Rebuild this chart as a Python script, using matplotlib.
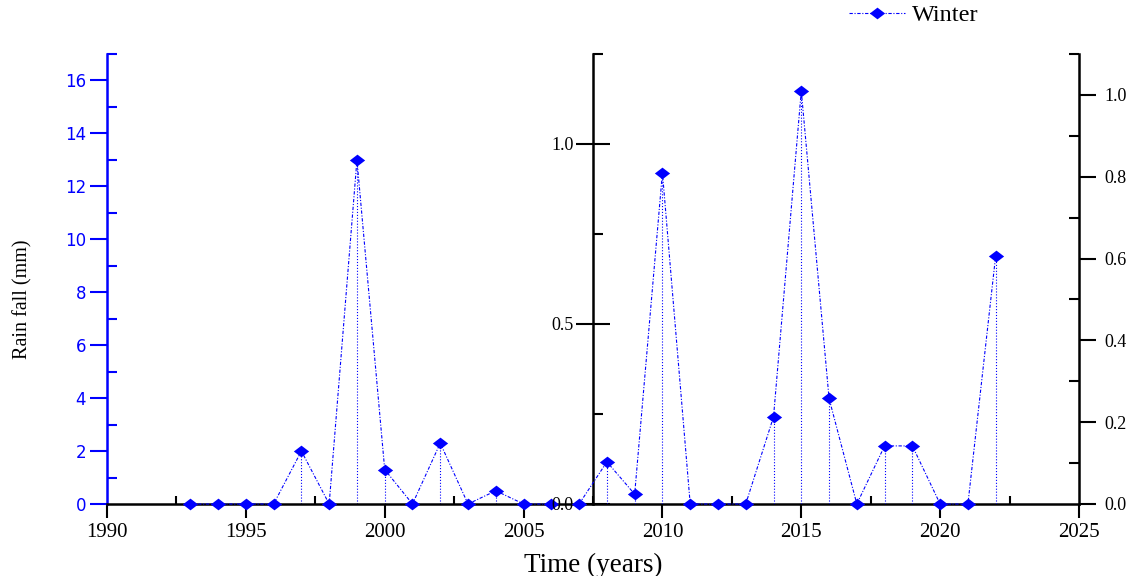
import matplotlib
matplotlib.use("Agg")
import matplotlib.pyplot as plt
from matplotlib.ticker import MultipleLocator, FixedLocator
from matplotlib.lines import Line2D

# winter rainfall, first part read on the left (blue) axis
years_early = [1993, 1994, 1995, 1996, 1997, 1998, 1999, 2000, 2001, 2002, 2003, 2004, 2005, 2006]
rain_early = [0, 0, 0, 0, 2.0, 0, 13.0, 1.3, 0, 2.3, 0, 0.5, 0, 0]

# later part read on the right axis
years_late = [2007, 2008, 2009, 2010, 2011, 2012, 2013, 2014, 2015, 2016, 2017, 2018, 2019, 2020, 2021, 2022]
rain_late = [0, 0.103, 0.024, 0.81, 0, 0, 0, 0.213, 1.01, 0.258, 0, 0.142, 0.142, 0, 0, 0.607]

blue = "#0000ff"
serif = "Liberation Serif"
line_style = (0, (3, 1.5, 1, 1.5))
diamond = [(-1.3, 0), (0, 1), (1.3, 0), (0, -1), (-1.3, 0)]

fig = plt.figure(figsize=(11.31, 5.76), dpi=100)
ax = fig.add_axes([107 / 1131, 1 - 504 / 576, 972 / 1131, 450 / 576])

ax.set_xlim(1990, 2025)
ax.set_ylim(0, 17)

# middle axis (broken-axis style) and right axis
ax_mid = ax.twinx()
ax_mid.set_ylim(0, 1.25)
ax_r = ax.twinx()
ax_r.set_ylim(0, 1.1)

# data
ax.plot(years_early, rain_early, color=blue, lw=0.8, linestyle=line_style,
        marker=diamond, markersize=11, markeredgewidth=0, zorder=5, clip_on=False)
ax.vlines(years_early, 0, rain_early, colors=blue, lw=0.8, linestyles=":")
ax_r.plot(years_late, rain_late, color=blue, lw=0.8, linestyle=line_style,
          marker=diamond, markersize=11, markeredgewidth=0, zorder=5, clip_on=False)
ax_r.vlines(years_late, 0, rain_late, colors=blue, lw=0.8, linestyles=":")

# bottom axis
ax.xaxis.set_major_locator(MultipleLocator(5))
ax.xaxis.set_minor_locator(FixedLocator([1992.5 + 5 * i for i in range(7)]))
ax.tick_params(axis="x", which="major", direction="out", length=10, width=1.5, pad=4,
               labelsize=15)
ax.tick_params(axis="x", which="minor", direction="in", length=6, width=1.5)
for lab in ax.get_xticklabels():
    lab.set_fontfamily(serif)
ax.set_xlabel("Time (years)", fontsize=19.5, family=serif)
ax.xaxis.set_label_coords(0.5, -0.108)

# left axis
ax.yaxis.set_major_locator(MultipleLocator(2))
ax.yaxis.set_minor_locator(MultipleLocator(1))
ax.tick_params(axis="y", which="major", direction="out", length=12, width=1.5,
               colors=blue, labelsize=12, pad=3)
ax.tick_params(axis="y", which="minor", direction="in", length=7, width=1.5, colors=blue)
ax.spines["left"].set_color(blue)
ax.spines["left"].set_linewidth(1.8)
ax.spines["bottom"].set_linewidth(1.8)
ax.spines["top"].set_visible(False)
ax.spines["right"].set_visible(False)
ax.set_ylabel("Rain fall (mm)", fontsize=14.5, family=serif)
ax.yaxis.set_label_coords(-0.077, 0.456)

# middle axis
ax_mid.spines["left"].set_position(("data", 2007.5))
ax_mid.spines["left"].set_linewidth(1.8)
ax_mid.spines["right"].set_visible(False)
ax_mid.spines["top"].set_visible(False)
ax_mid.spines["bottom"].set_visible(False)
ax_mid.yaxis.set_ticks_position("left")
ax_mid.yaxis.set_label_position("left")
ax_mid.yaxis.set_major_locator(MultipleLocator(0.5))
ax_mid.yaxis.set_minor_locator(MultipleLocator(0.25))
ax_mid.tick_params(axis="y", which="major", direction="inout", length=24, width=1.5,
                   labelsize=13, pad=2)
ax_mid.tick_params(axis="y", which="minor", direction="in", length=7, width=1.5)
for lab in ax_mid.get_yticklabels():
    lab.set_fontfamily(serif)

# right axis
ax_r.spines["right"].set_linewidth(1.8)
ax_r.spines["left"].set_visible(False)
ax_r.spines["top"].set_visible(False)
ax_r.spines["bottom"].set_visible(False)
ax_r.yaxis.set_major_locator(MultipleLocator(0.2))
ax_r.yaxis.set_minor_locator(MultipleLocator(0.1))
ax_r.tick_params(axis="y", which="major", direction="out", length=12, width=1.5,
                 labelsize=13, pad=6)
ax_r.tick_params(axis="y", which="minor", direction="in", length=7, width=1.5)
for lab in ax_r.get_yticklabels():
    lab.set_fontfamily(serif)

# legend
handle = Line2D([], [], color=blue, lw=0.8, linestyle=line_style,
                marker=diamond, markersize=11, markeredgewidth=0)
fig.legend([handle], ["Winter"], loc="center left",
           bbox_to_anchor=(849 / 1131, 1 - 15 / 576), frameon=False,
           borderaxespad=0, borderpad=0, handlelength=2.3, handletextpad=0.3,
           prop={"family": serif, "size": 17.5})

fig.savefig("out.png", dpi=100)
